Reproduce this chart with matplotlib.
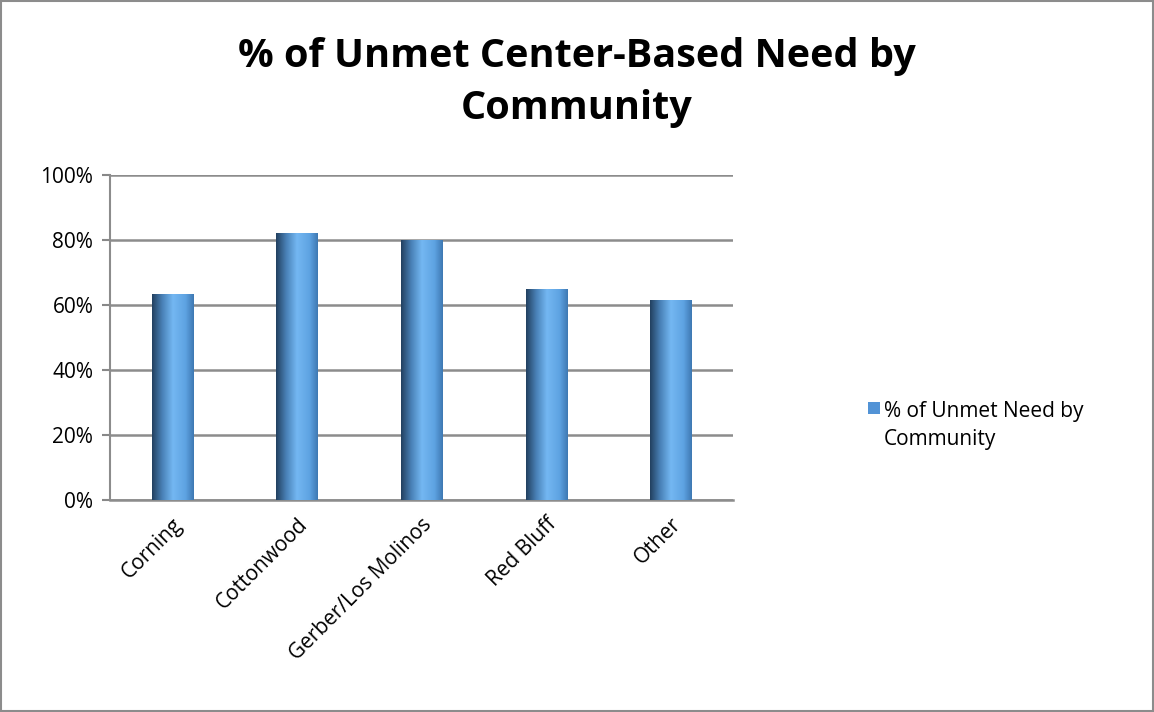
import numpy as np
import matplotlib
matplotlib.use("Agg")
import matplotlib.pyplot as plt
from matplotlib.colors import LinearSegmentedColormap
from matplotlib.patches import Rectangle

communities = ["Corning", "Cottonwood", "Gerber/Los Molinos", "Red Bluff", "Other"]
unmet_pct = [63.3, 81.9, 79.8, 64.9, 61.3]
yticks = [0, 20, 40, 60, 80, 100]
series_name = "% of Unmet Need by\nCommunity"

plt.rcParams['font.family'] = ['Open Sans', 'DejaVu Sans']

# horizontal shading like the cylinder-ish excel bars
grad = LinearSegmentedColormap.from_list(
    "bar", [(0.0, "#22405f"), (0.25, "#4a82b8"), (0.5, "#74b7f2"),
            (0.8, "#5ea3e2"), (1.0, "#3e78b2")])

fig = plt.figure(figsize=(11.54, 7.12), dpi=100)
ax = fig.add_axes([0.0953, 0.2978, 0.5400, 0.4565])

x = np.arange(len(communities))
bars = ax.bar(x, unmet_pct, width=0.33, color="none", zorder=3)
img = np.linspace(0, 1, 256).reshape(1, -1)
for b in bars:
    x0, w, h = b.get_x(), b.get_width(), b.get_height()
    ax.imshow(img, cmap=grad, aspect="auto", extent=(x0, x0 + w, 0, h),
              zorder=3, interpolation="bilinear")
ax.set_xlim(-0.5, len(communities) - 0.5)
ax.set_ylim(0, 100)

ax.set_yticks(yticks)
ax.set_yticklabels([f"{v}%" for v in yticks], fontsize=15)
ax.set_xticks(x)
ax.set_xticklabels(communities, fontsize=15, rotation=45, ha="right",
                   va="top", rotation_mode="anchor")
ax.tick_params(axis="x", length=0, pad=10)
ax.tick_params(axis="y", length=6, color="#888888", width=1.5, pad=6)
ax.yaxis.grid(True, color="#8c8c8c", linewidth=1.8, zorder=1)
ax.set_axisbelow(True)
for s in ["top", "right"]:
    ax.spines[s].set_visible(False)
ax.spines["left"].set_color("#8c8c8c")
ax.spines["left"].set_linewidth(1.5)
ax.spines["bottom"].set_color("#8c8c8c")
ax.spines["bottom"].set_linewidth(1.8)

fig.text(0.5, 0.884, "% of Unmet Center-Based Need by\nCommunity",
         ha="center", va="center", fontsize=28.5, fontweight="bold",
         linespacing=1.45)

# legend: key square beside the first line of the series name
fig.patches.append(Rectangle((0.752, 0.418), 0.0104, 0.0169,
                             transform=fig.transFigure,
                             facecolor="#5293d6", edgecolor="none"))
fig.text(0.766, 0.437, series_name, ha="left", va="top", fontsize=15,
         linespacing=1.45)

# outer frame
fig.patches.append(Rectangle((0.001, 0.001), 0.998, 0.998, transform=fig.transFigure,
                             fill=False, edgecolor="#8c8c8c", linewidth=1.5))

fig.savefig("out.png", dpi=100)
